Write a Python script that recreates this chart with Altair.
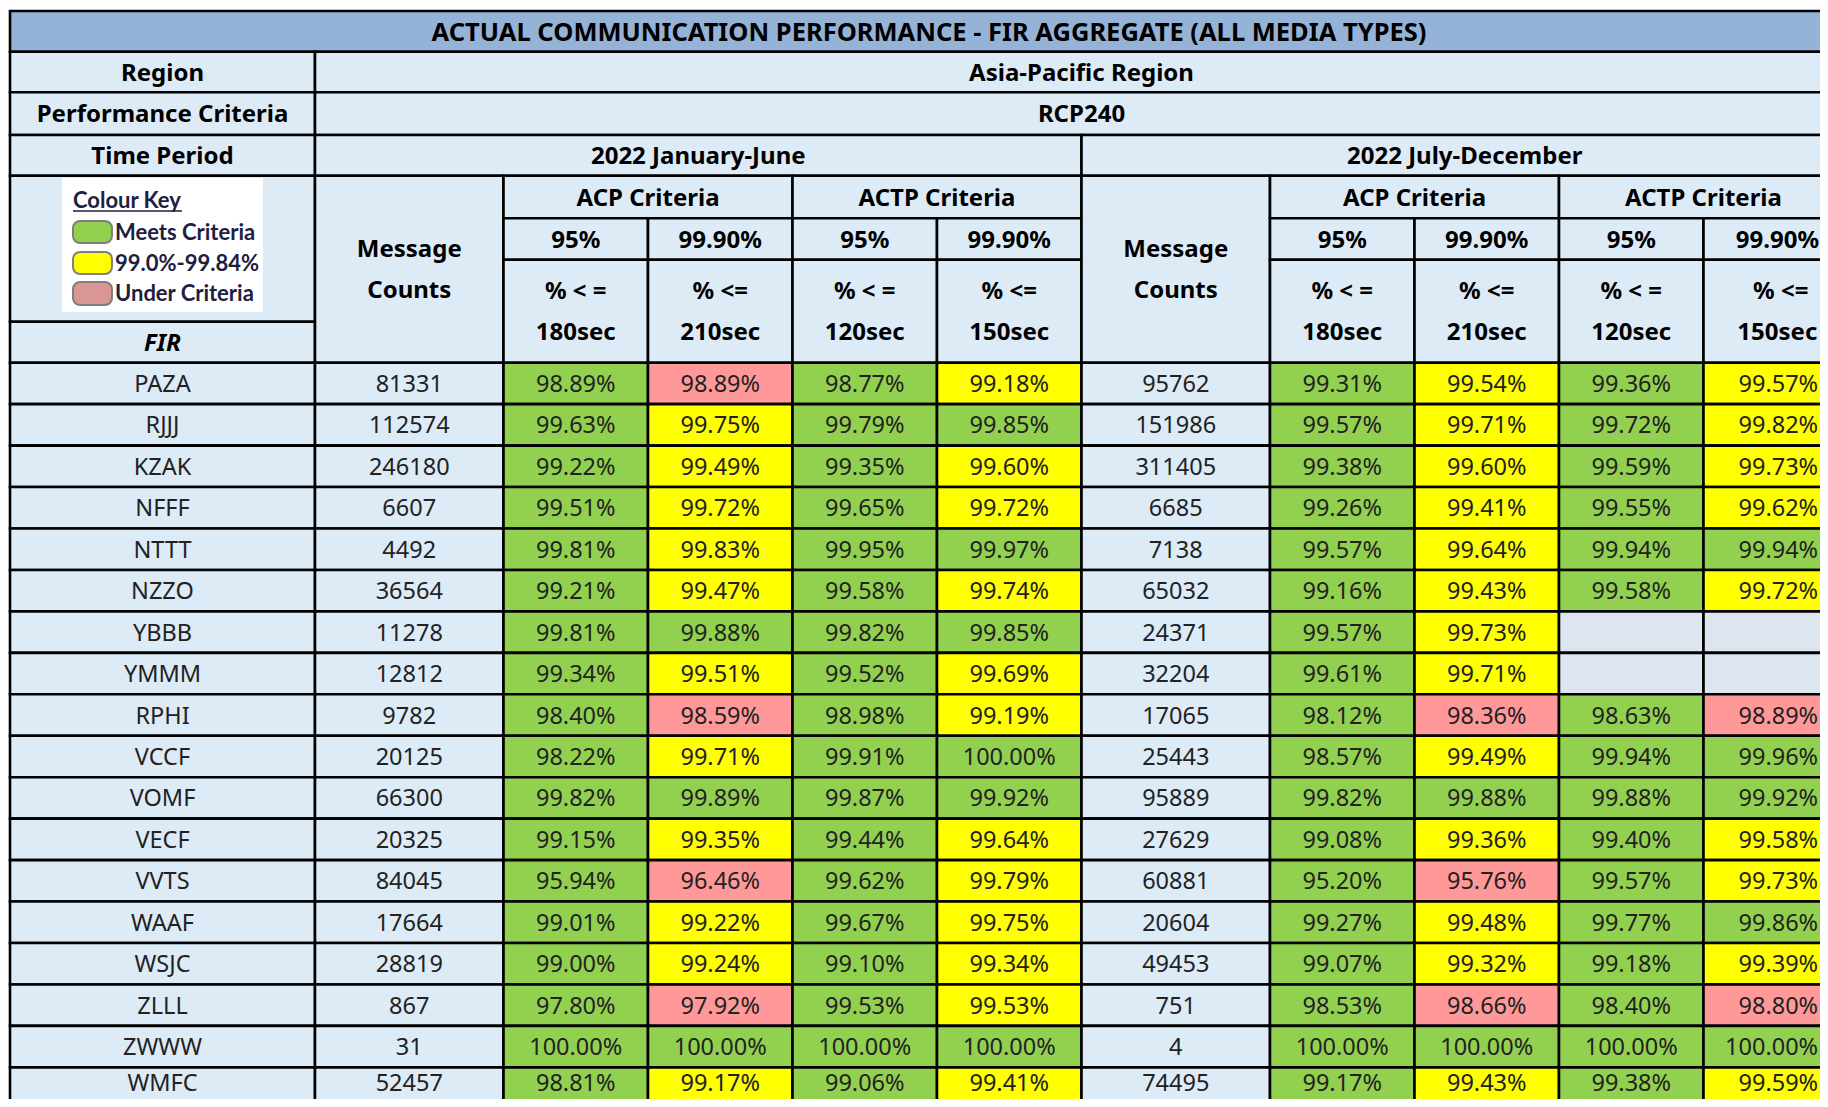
import altair as alt
import pandas as pd

# ---------------- data ----------------
title = "ACTUAL COMMUNICATION PERFORMANCE - FIR AGGREGATE (ALL MEDIA TYPES)"
region = "Asia-Pacific Region"
criteria = "RCP240"
periods = ["2022 January-June", "2022 July-December"]
groups = ["ACP Criteria", "ACTP Criteria"]
targets = ["95%", "99.90%", "95%", "99.90%"]
limits_top = ["% < =", "% <=", "% < =", "% <="]
limits_bot = ["180sec", "210sec", "120sec", "150sec"]
target_vals = [95.0, 99.9, 95.0, 99.9]
legend_labels = ["Meets Criteria", "99.0%-99.84%", "Under Criteria"]

fir = ["PAZA", "RJJJ", "KZAK", "NFFF", "NTTT", "NZZO", "YBBB", "YMMM", "RPHI",
       "VCCF", "VOMF", "VECF", "VVTS", "WAAF", "WSJC", "ZLLL", "ZWWW", "WMFC"]

h1_counts = [81331, 112574, 246180, 6607, 4492, 36564, 11278, 12812, 9782,
             20125, 66300, 20325, 84045, 17664, 28819, 867, 31, 52457]
h1_acp95 = [98.89, 99.63, 99.22, 99.51, 99.81, 99.21, 99.81, 99.34, 98.40,
            98.22, 99.82, 99.15, 95.94, 99.01, 99.00, 97.80, 100.00, 98.81]
h1_acp999 = [98.89, 99.75, 99.49, 99.72, 99.83, 99.47, 99.88, 99.51, 98.59,
             99.71, 99.89, 99.35, 96.46, 99.22, 99.24, 97.92, 100.00, 99.17]
h1_actp95 = [98.77, 99.79, 99.35, 99.65, 99.95, 99.58, 99.82, 99.52, 98.98,
             99.91, 99.87, 99.44, 99.62, 99.67, 99.10, 99.53, 100.00, 99.06]
h1_actp999 = [99.18, 99.85, 99.60, 99.72, 99.97, 99.74, 99.85, 99.69, 99.19,
              100.00, 99.92, 99.64, 99.79, 99.75, 99.34, 99.53, 100.00, 99.41]

h2_counts = [95762, 151986, 311405, 6685, 7138, 65032, 24371, 32204, 17065,
             25443, 95889, 27629, 60881, 20604, 49453, 751, 4, 74495]
h2_acp95 = [99.31, 99.57, 99.38, 99.26, 99.57, 99.16, 99.57, 99.61, 98.12,
            98.57, 99.82, 99.08, 95.20, 99.27, 99.07, 98.53, 100.00, 99.17]
h2_acp999 = [99.54, 99.71, 99.60, 99.41, 99.64, 99.43, 99.73, 99.71, 98.36,
             99.49, 99.88, 99.36, 95.76, 99.48, 99.32, 98.66, 100.00, 99.43]
h2_actp95 = [99.36, 99.72, 99.59, 99.55, 99.94, 99.58, None, None, 98.63,
             99.94, 99.88, 99.40, 99.57, 99.77, 99.18, 98.40, 100.00, 99.38]
h2_actp999 = [99.57, 99.82, 99.73, 99.62, 99.94, 99.72, None, None, 98.89,
              99.96, 99.92, 99.58, 99.73, 99.86, 99.39, 98.80, 100.00, 99.59]

halves = [
    (h1_counts, [h1_acp95, h1_acp999, h1_actp95, h1_actp999]),
    (h2_counts, [h2_acp95, h2_acp999, h2_actp95, h2_actp999]),
]

# ---------------- styles / layout ----------------
W, H = 1812, 1091
TITLE_BG = "#95B3D7"
HDR_BG = "#DDEBF7"
EMPTY_BG = "#DDE5EF"
GREEN, YELLOW, PINK = "#92D050", "#FFFF00", "#FF9999"
LEG_PINK = "#D99694"
FONT = "Noto Sans"
FS = 23.5        # body text
FS_H = 24        # header text
DY = 1.5         # optical centring of text in its cell
LAST_SHIFT = 5   # text in the (cut-off) last column sits a little right of centre

col_w = [305, 188.5] + [144.5] * 4 + [188.5] + [144.5] * 4
X0, Y0 = 2.0, 3.0
xe = [X0]
for w in col_w:
    xe.append(xe[-1] + w)
hdr_h = [40.7, 40.6, 42.7, 40.7, 42.6, 41.4, 103.0]
ye = [Y0]
for h in hdr_h:
    ye.append(ye[-1] + h)
RH = 41.45
y_fir = ye[4] + 146.0


def status_color(v, t):
    if v is None:
        return EMPTY_BG
    if t < 99:
        return GREEN if v >= t else PINK
    if v >= 99.85:
        return GREEN
    if v >= 99.0:
        return YELLOW
    return PINK


def est_half_width(text, fs):
    em = {".": 0.27, "%": 0.86, " ": 0.26, "<": 0.572, "=": 0.572}
    return sum(em.get(ch, 0.572) for ch in text) * fs / 2


cells, title_txt, bold_txt, italic_txt, data_txt = [], [], [], [], []


def cell(c0, c1, y0, y1, fill):
    cells.append(dict(x=xe[c0], x2=xe[c1], y=y0, y2=y1, fill=fill))


def label(store, c0, c1, cy, text, fs):
    # keep the whole text inside the drawing area (the table runs off the page)
    cy = min(cy + DY, H - 15)
    cx = (xe[c0] + xe[c1]) / 2
    if c0 == len(col_w) - 1:
        cx = min(cx + LAST_SHIFT, W - est_half_width(text, fs) - 1.5)
    store.append(dict(cx=cx, cy=cy, text=text))


mid = lambda a, b: (a + b) / 2

# header
cell(0, 11, ye[0], ye[1], TITLE_BG)
title_txt.append(dict(cx=(xe[0] + xe[11]) / 2, cy=mid(ye[0], ye[1]) + DY, text=title))
for i, (l, v) in enumerate([("Region", region), ("Performance Criteria", criteria)]):
    cell(0, 1, ye[1 + i], ye[2 + i], HDR_BG); label(bold_txt, 0, 1, mid(ye[1 + i], ye[2 + i]), l, FS_H)
    cell(1, 11, ye[1 + i], ye[2 + i], HDR_BG)
    bold_txt.append(dict(cx=(xe[1] + xe[11]) / 2, cy=mid(ye[1 + i], ye[2 + i]) + DY, text=v))
cell(0, 1, ye[3], ye[4], HDR_BG); label(bold_txt, 0, 1, mid(ye[3], ye[4]), "Time Period", FS_H)
cell(0, 1, ye[4], y_fir, HDR_BG)
cell(0, 1, y_fir, ye[7], HDR_BG); label(italic_txt, 0, 1, mid(y_fir, ye[7]), "FIR", FS_H)
for h in range(2):
    b = 1 + 5 * h
    cell(b, b + 5, ye[3], ye[4], HDR_BG)
    bold_txt.append(dict(cx=(xe[b] + xe[b + 5]) / 2, cy=mid(ye[3], ye[4]) + DY, text=periods[h]))
    cell(b, b + 1, ye[4], ye[7], HDR_BG)
    cm = mid(ye[4], ye[7])
    label(bold_txt, b, b + 1, cm - 20.5, "Message", FS_H)
    label(bold_txt, b, b + 1, cm + 20.5, "Counts", FS_H)
    for g in range(2):
        cell(b + 1 + 2 * g, b + 3 + 2 * g, ye[4], ye[5], HDR_BG)
        bold_txt.append(dict(cx=(xe[b + 1 + 2 * g] + xe[b + 3 + 2 * g]) / 2,
                             cy=mid(ye[4], ye[5]) + DY, text=groups[g]))
    for k in range(4):
        c = b + 1 + k
        cell(c, c + 1, ye[5], ye[6], HDR_BG)
        label(bold_txt, c, c + 1, mid(ye[5], ye[6]), targets[k], FS_H)
        cell(c, c + 1, ye[6], ye[7], HDR_BG)
        sm = mid(ye[6], ye[7])
        label(bold_txt, c, c + 1, sm - 20.5, limits_top[k], FS_H)
        label(bold_txt, c, c + 1, sm + 20.5, limits_bot[k], FS_H)

# data rows
for i, name in enumerate(fir):
    y0, y1 = ye[7] + i * RH, ye[7] + (i + 1) * RH
    cy = mid(y0, y1)
    cell(0, 1, y0, y1, HDR_BG); label(data_txt, 0, 1, cy, name, FS)
    for h, (counts, series) in enumerate(halves):
        b = 1 + 5 * h
        cell(b, b + 1, y0, y1, HDR_BG); label(data_txt, b, b + 1, cy, str(counts[i]), FS)
        for k in range(4):
            v = series[k][i]
            c = b + 1 + k
            cell(c, c + 1, y0, y1, status_color(v, target_vals[k]))
            if v is not None:
                label(data_txt, c, c + 1, cy, f"{v:.2f}%", FS)

# legend (colour key picture)
leg_box = pd.DataFrame([dict(x=54, x2=255, y=170, y2=304)])
leg_sw = pd.DataFrame([
    dict(x=65, x2=104, y=213, y2=235, fill=GREEN),
    dict(x=65, x2=104, y=244, y2=266, fill=YELLOW),
    dict(x=65, x2=104, y=274, y2=297, fill=LEG_PINK),
])
leg_txt = pd.DataFrame(
    [dict(cx=65, cy=193, text="Colour Key")]
    + [dict(cx=107, cy=cyv, text=t) for cyv, t in zip([225, 256, 286], legend_labels)]
)
leg_ul = pd.DataFrame([dict(x=65, x2=174, y=203)])

xs = alt.Scale(domain=[0, W], range=[0, W], nice=False, zero=False)
ys = alt.Scale(domain=[0, H], range=[0, H], nice=False, zero=False)


def X(f="x"):
    return alt.X(f"{f}:Q", scale=xs, axis=None)


def Y(f="y"):
    return alt.Y(f"{f}:Q", scale=ys, axis=None)


rects = alt.Chart(pd.DataFrame(cells)).mark_rect(
    stroke="black", strokeWidth=2.6, clip=True
).encode(x=X(), x2="x2:Q", y=Y(), y2="y2:Q", fill=alt.Fill("fill:N", scale=None, legend=None))

t_title = alt.Chart(pd.DataFrame(title_txt)).mark_text(
    font=FONT, fontSize=25.5, fontWeight="bold", color="#000000",
    align="center", baseline="middle"
).encode(x=X("cx"), y=Y("cy"), text="text:N")

t_bold = alt.Chart(pd.DataFrame(bold_txt)).mark_text(
    font=FONT, fontSize=FS_H, fontWeight="bold", color="#000000",
    align="center", baseline="middle"
).encode(x=X("cx"), y=Y("cy"), text="text:N")

t_ital = alt.Chart(pd.DataFrame(italic_txt)).mark_text(
    font=FONT, fontSize=FS_H, fontWeight="bold", fontStyle="italic", color="#000000",
    align="center", baseline="middle"
).encode(x=X("cx"), y=Y("cy"), text="text:N")

t_data = alt.Chart(pd.DataFrame(data_txt)).mark_text(
    font=FONT, fontSize=FS, color="#222222",
    align="center", baseline="middle"
).encode(x=X("cx"), y=Y("cy"), text="text:N")

lg_box = alt.Chart(leg_box).mark_rect(fill="#FFFFFF").encode(
    x=X(), x2="x2:Q", y=Y(), y2="y2:Q")
lg_sw = alt.Chart(leg_sw).mark_rect(
    cornerRadius=7, stroke="#7F7F7F", strokeWidth=2
).encode(x=X(), x2="x2:Q", y=Y(), y2="y2:Q", fill=alt.Fill("fill:N", scale=None, legend=None))
lg_txt = alt.Chart(leg_txt).mark_text(
    font="Lato", fontSize=22, fontWeight="bold", color="#1E2040",
    align="left", baseline="middle"
).encode(x=X("cx"), y=Y("cy"), text="text:N")
lg_ul = alt.Chart(leg_ul).mark_rule(color="#1E2040", strokeWidth=1.6).encode(
    x=X(), x2="x2:Q", y=Y())

chart = alt.layer(rects, t_title, t_bold, t_ital, t_data, lg_box, lg_sw, lg_txt, lg_ul).properties(
    width=W, height=H, padding=0, autosize=alt.AutoSizeParams(type="none"),
    background="#FFFFFF"
).configure_view(stroke=None)

chart.save("out.html", embed_options={"renderer": "svg", "actions": False})
